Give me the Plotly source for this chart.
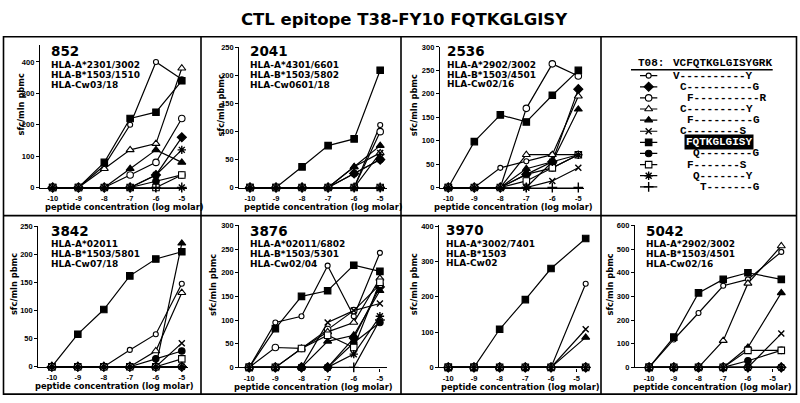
import plotly.graph_objects as go

W, H = 800, 403

# ---------------- data ----------------
conc = [-10, -9, -8, -7, -6, -5]
conc_late = [-10, -9, -8, -7, -6, -4.65]   # last point drawn right of the -5 tick in two panels
conc_labels = ["-10", "-9", "-8", "-7", "-6", "-5"]

title = "CTL epitope T38-FY10 FQTKGLGISY"
t08 = "VCFQTKGLGISYGRK"
peptides = ["V----------Y", "C----------G", "F----------R", "C---------Y", "F---------G",
            "C--------S", "FQTKGLGISY", "Q--------G", "F-------S", "Q-------Y", "T-------G"]

donors = ["852", "2041", "2536", "3842", "3876", "3970", "5042"]
hla = [
    ["HLA-A*2301/3002", "HLA-B*1503/1510", "HLA-Cw03/18"],
    ["HLA-A*4301/6601", "HLA-B*1503/5802", "HLA-Cw0601/18"],
    ["HLA-A*2902/3002", "HLA-B*1503/4501", "HLA-Cw02/16"],
    ["HLA-A*02011", "HLA-B*1503/5801", "HLA-Cw07/18"],
    ["HLA-A*02011/6802", "HLA-B*1503/5301", "HLA-Cw02/04"],
    ["HLA-A*3002/7401", "HLA-B*1503", "HLA-Cw02"],
    ["HLA-A*2902/3002", "HLA-B*1503/4501", "HLA-Cw02/16"],
]

# sfc/mln pbmc, one row per peptide (legend order)
d852 = [[0, 0, 70, 200, 400, 345], [0, 0, 0, 0, 40, 160], [0, 0, 0, 40, 80, 220],
        [0, 0, 60, 120, 140, 380], [0, 0, 0, 60, 120, 80], [0, 0, 0, 0, 0, 0],
        [0, 0, 80, 220, 240, 340], [0, 0, 0, 0, 20, 40], [0, 0, 0, 0, 0, 40],
        [0, 0, 0, 0, 40, 120], [0, 0, 0, 0, 0, 0]]
d2041 = [[0, 0, 0, 0, 0, 112], [0, 0, 0, 0, 25, 50], [0, 0, 0, 0, 0, 100],
         [0, 0, 0, 0, 37, 62], [0, 0, 0, 0, 37, 75], [0, 0, 0, 0, 0, 62],
         [0, 0, 37, 75, 87, 210], [0, 0, 0, 0, 25, 50], [0, 0, 0, 0, 0, 0],
         [0, 0, 0, 0, 0, 0], [0, 0, 0, 0, 0, 0]]
d2536 = [[0, 0, 42, 56, 70, 70], [0, 0, 0, 28, 55, 210], [0, 0, 0, 169, 264, 238],
         [0, 0, 0, 70, 70, 195], [0, 0, 0, 40, 55, 167], [0, 0, 0, 0, 14, 42],
         [0, 98, 155, 140, 197, 250], [0, 0, 0, 28, 42, 70], [0, 0, 0, 14, 42, 70],
         [0, 0, 0, 0, 55, 70], [0, 0, 0, 0, 0, 0]]
d3842 = [[0, 0, 0, 30, 58, 148], [0, 0, 0, 0, 0, 0], [0, 0, 0, 0, 0, 0],
         [0, 0, 0, 0, 28, 132], [0, 0, 0, 0, 0, 220], [0, 0, 0, 0, 0, 42],
         [0, 58, 102, 162, 192, 205], [0, 0, 0, 0, 14, 28], [0, 0, 0, 0, 0, 14],
         [0, 0, 0, 0, 0, 0], [0, 0, 0, 0, 0, 0]]
d3876 = [[0, 95, 108, 215, 108, 242], [0, 0, 0, 0, 62, 170], [0, 42, 40, 80, 120, 175],
         [0, 0, 40, 75, 95, 188], [0, 0, 0, 55, 68, 162], [0, 0, 0, 95, 120, 135],
         [0, 82, 150, 162, 216, 203], [0, 0, 0, 0, 52, 95], [0, 0, 40, 68, 42, 180],
         [0, 0, 0, 0, 28, 108], [0, 0, 0, 0, 0, 100]]
d3970 = [[0, 0, 0, 0, 0, 237], [0, 0, 0, 0, 0, 0], [0, 0, 0, 0, 0, 0],
         [0, 0, 0, 0, 0, 0], [0, 0, 0, 0, 0, 85], [0, 0, 0, 0, 0, 108],
         [0, 0, 108, 192, 280, 365], [0, 0, 0, 0, 0, 0], [0, 0, 0, 0, 0, 0],
         [0, 0, 0, 0, 0, 0], [0, 0, 0, 0, 0, 0]]
d5042 = [[0, 118, 230, 345, 372, 488], [0, 0, 0, 0, 0, 0], [0, 0, 0, 0, 0, 0],
         [0, 0, 0, 113, 355, 513], [0, 0, 0, 0, 85, 315], [0, 0, 0, 0, 0, 143],
         [0, 128, 315, 372, 400, 372], [0, 0, 0, 0, 28, 72], [0, 0, 0, 0, 72, 72],
         [0, 0, 0, 0, 0, 0], [0, 0, 0, 0, 0, 0]]

panel_data = [d852, d2041, d2536, d3842, d3876, d3970, d5042]
panel_x = [conc, conc, conc, conc, conc, conc_late, conc_late]

# ---------------- styles / layout ----------------
# symbol, fill, size
pep_style = [
    ("circle", "white", 5), ("diamond", "black", 7), ("circle", "white", 6.5),
    ("triangle-up", "white", 7), ("triangle-up", "black", 7), ("x-thin-open", None, 6),
    ("square", "black", 6.5), ("circle", "black", 6.5), ("square", "white", 6.5),
    ("asterisk-open", None, 7), ("cross-thin-open", None, 7),
]

# left, right, bottom, top (px), x range, y max, y dtick, label-left px, xtitle center px, ytitle x px
geom = [
    dict(l=40, r=186.7, b=187.7, t=42.3, xr=[-10.49, -4.81], ym=453, dt=100, lx=49.3, lyc=48.3, xt=124, yt=20.7),
    dict(l=239.3, r=386.7, b=187.7, t=44.3, xr=[-10.41, -4.75], ym=251, dt=50, lx=248.3, lyc=48.3, xt=323.7, yt=220.7),
    dict(l=440, r=584.3, b=187.7, t=43.5, xr=[-10.32, -4.77], ym=301, dt=50, lx=444.5, lyc=48.0, xt=513, yt=414),
    dict(l=38.3, r=188.3, b=371, t=227, xr=[-10.52, -4.75], ym=251, dt=50, lx=49.3, lyc=231.7, xt=114.2, yt=13.5),
    dict(l=239.3, r=386.7, b=371.7, t=226, xr=[-10.38, -4.74], ym=301, dt=50, lx=247.7, lyc=231.7, xt=313.5, yt=213.5),
    dict(l=439.3, r=588, b=371.7, t=226.5, xr=[-10.35, -4.56], ym=402, dt=100, lx=444.3, lyc=231, xt=520.7, yt=413.5),
    dict(l=635, r=785, b=371.7, t=226, xr=[-10.57, -4.50], ym=602, dt=100, lx=644.3, lyc=231.7, xt=712, yt=610),
]


def px(x):
    return x / W


def py(y):
    return 1 - y / H


BOLD = "bold"
fig = go.Figure()
layout = dict(width=W, height=H, margin=dict(l=0, r=0, t=0, b=0),
              paper_bgcolor="white", plot_bgcolor="white", showlegend=False)
annotations = []
shapes = []


def marker_for(style):
    sym, fill, size = style
    if fill is None:
        return dict(symbol=sym, size=size, color="black", line=dict(color="black", width=1.4))
    return dict(symbol=sym, size=size, color=fill, line=dict(color="black", width=1.1))


for i, g in enumerate(geom):
    ax = "" if i == 0 else str(i + 1)
    layout["xaxis" + ax] = dict(
        domain=[px(g["l"]), px(g["r"])], range=g["xr"], anchor="y" + ax,
        showline=True, linecolor="black", linewidth=1.3, ticks="outside", ticklen=3,
        tickwidth=1, tickcolor="black", showgrid=False, zeroline=False,
        tickmode="array", tickvals=conc, ticktext=conc_labels,
        tickfont=dict(family="Liberation Sans", size=7.5, color="black", weight=BOLD))
    layout["yaxis" + ax] = dict(
        domain=[py(g["b"]), py(g["t"])], range=[0, g["ym"]], anchor="x" + ax,
        showline=True, linecolor="black", linewidth=1.3, ticks="outside", ticklen=3,
        tickwidth=1, tickcolor="black", showgrid=False, zeroline=False, dtick=g["dt"],
        tickfont=dict(family="Liberation Sans", size=7.5, color="black", weight=BOLD))
    for k, vals in enumerate(panel_data[i]):
        fig.add_trace(go.Scatter(
            x=panel_x[i], y=vals, mode="lines+markers", cliponaxis=False,
            line=dict(color="black", width=1.2), marker=marker_for(pep_style[k]),
            xaxis="x" + ax, yaxis="y" + ax, hoverinfo="skip"))
    # panel texts
    annotations.append(dict(x=px(g["lx"]), y=py(g["lyc"]), xref="paper", yref="paper",
                            text=donors[i], showarrow=False, xanchor="left", yanchor="middle",
                            font=dict(family="DejaVu Sans", size=13.5, color="black", weight=BOLD)))
    for j, line in enumerate(hla[i]):
        annotations.append(dict(x=px(g["lx"]), y=py(g["lyc"] + 14.2 + j * 10), xref="paper", yref="paper",
                                text=line, showarrow=False, xanchor="left", yanchor="middle",
                                font=dict(family="DejaVu Sans", size=9, color="black", weight=BOLD)))
    annotations.append(dict(x=px(g["xt"]), y=py(g["b"] + 20.2), xref="paper", yref="paper",
                            text="peptide concentration (log molar)", showarrow=False,
                            xanchor="center", yanchor="middle",
                            font=dict(family="DejaVu Sans", size=8.3, color="black", weight=BOLD)))
    annotations.append(dict(x=px(g["yt"]), y=py((g["b"] + g["t"]) / 2 - 12), xref="paper", yref="paper",
                            text="sfc/mln pbmc", showarrow=False, textangle=-90,
                            xanchor="center", yanchor="middle",
                            font=dict(family="DejaVu Sans", size=8.3, color="black", weight=BOLD)))

# ---------------- legend panel (key) ----------------
la = str(len(geom) + 1)
layout["xaxis" + la] = dict(domain=[px(601), px(797)], range=[601, 797], visible=False, anchor="y" + la)
layout["yaxis" + la] = dict(domain=[py(217), py(33)], range=[217, 33], visible=False, anchor="x" + la)

row0, row_step = 73.3, 11.37
seg_l, seg_r = 640, 657.3
seq_left, char_w = 671.3, 6.6
for k, pep in enumerate(peptides):
    yr = row0 + k * row_step
    fig.add_trace(go.Scatter(x=[seg_l, seg_r], y=[yr, yr], mode="lines",
                             line=dict(color="black", width=1.2), xaxis="x" + la, yaxis="y" + la,
                             hoverinfo="skip", cliponaxis=False))
    fig.add_trace(go.Scatter(x=[(seg_l + seg_r) / 2], y=[yr], mode="markers",
                             marker=marker_for(pep_style[k]), xaxis="x" + la, yaxis="y" + la,
                             hoverinfo="skip", cliponaxis=False))
    start = seq_left + t08.index(pep[0]) * char_w
    is_epi = pep == t08[2:12]
    annotations.append(dict(x=start - (1 if is_epi else 0), y=yr, xref="x" + la, yref="y" + la, text=pep,
                            showarrow=False, xanchor="left", yanchor="middle",
                            bgcolor="black" if is_epi else None, borderpad=1,
                            font=dict(family="Liberation Mono", size=11,
                                      color="white" if is_epi else "black", weight=BOLD)))

annotations.append(dict(x=636, y=60, xref="x" + la, yref="y" + la, text="T08:", showarrow=False,
                        xanchor="left", yanchor="middle",
                        font=dict(family="Liberation Mono", size=11, color="black", weight=BOLD)))
annotations.append(dict(x=seq_left, y=60, xref="x" + la, yref="y" + la, text=t08, showarrow=False,
                        xanchor="left", yanchor="middle",
                        font=dict(family="Liberation Mono", size=11, color="black", weight=BOLD)))
shapes.append(dict(type="line", xref="x" + la, yref="y" + la, x0=631, x1=772.7, y0=67.3, y1=67.3,
                   line=dict(color="black", width=1.5)))

# ---------------- title and frame ----------------
annotations.append(dict(x=px(404), y=py(16), xref="paper", yref="paper", text=title, showarrow=False,
                        xanchor="center", yanchor="middle",
                        font=dict(family="DejaVu Sans", size=16.5, color="black", weight=BOLD)))

frame = dict(color="black", width=1.6)
shapes.append(dict(type="rect", xref="paper", yref="paper", x0=px(3.5), x1=px(796.5),
                   y0=py(399), y1=py(33.5), line=frame))
shapes.append(dict(type="line", xref="paper", yref="paper", x0=px(3.5), x1=px(796.5),
                   y0=py(216.5), y1=py(216.5), line=frame))
for xv in (201, 401, 601):
    shapes.append(dict(type="line", xref="paper", yref="paper", x0=px(xv), x1=px(xv),
                       y0=py(399), y1=py(33.5), line=frame))

layout["annotations"] = annotations
layout["shapes"] = shapes
fig.update_layout(**layout)
fig.write_html("out.html", config={"displayModeBar": False},
               post_script="document.body.style.margin='0';")
